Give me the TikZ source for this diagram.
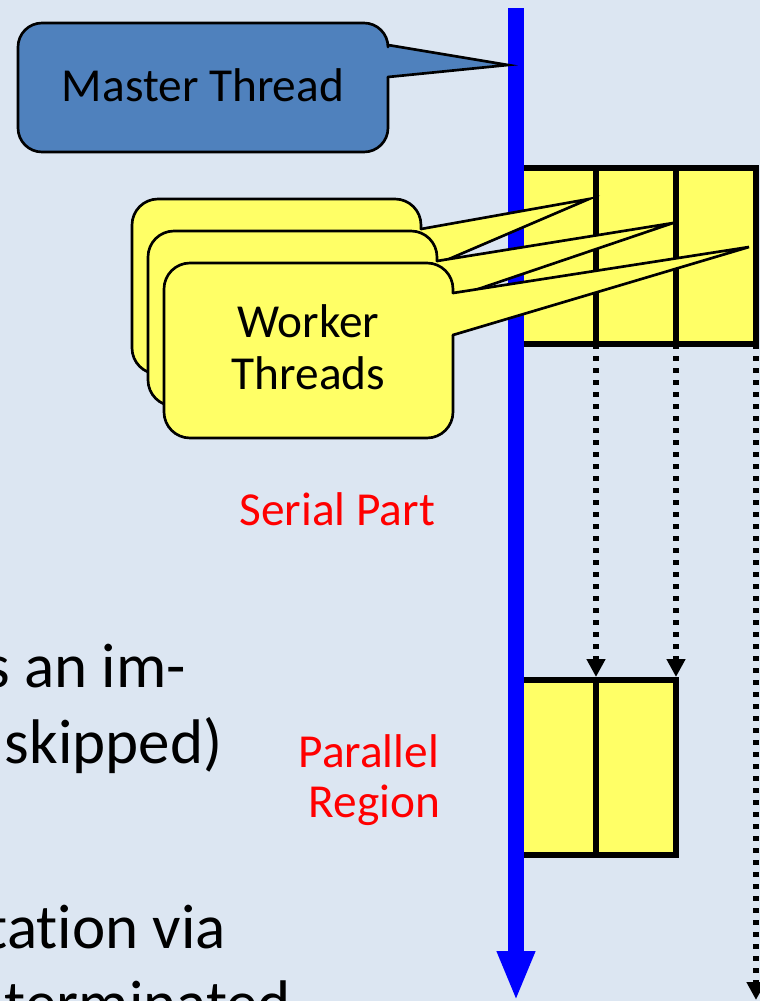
\documentclass[tikz,border=0pt]{standalone}
\usepackage{fontspec}
\setmainfont{Carlito}[Ligatures=NoCommon]
\usetikzlibrary{arrows.meta}
\definecolor{bgblue}{HTML}{DCE6F2}
\definecolor{masterfill}{HTML}{4F81BD}
\definecolor{workeryellow}{HTML}{FFFF66}
\definecolor{threadblue}{HTML}{0000FF}
\definecolor{labelred}{HTML}{FF0000}
% #1 fill, #2 x0, #3 y0, #4 x1, #5 y1, #6 ya, #7 yb, #8 tip, #9 radius
\newcommand\speechbox[9]{%
  \fill[#1, rounded corners=#9] (#2,#3) rectangle (#4,#5);
  \fill[#1] (#4,#6) -- (#8) -- (#4,#7) -- cycle;
  \draw[calloutline, rounded corners=#9] (#4,#7) -- (#4,#5) -- (#2,#5) -- (#2,#3) -- (#4,#3) -- (#4,#6);
  \draw[calloutline, line join=miter] (#4,#6) -- (#8) -- (#4,#7);
}
\begin{document}
\begin{tikzpicture}[x=0.75pt,y=-0.75pt,
  cellbox/.style={draw=black, line width=4.5pt, fill=workeryellow, inner sep=0pt, outer sep=0pt, minimum width=60pt, anchor=north west},
  dotarrow/.style={line width=4pt, dash pattern=on 4pt off 5pt, -{Triangle[length=13.5pt,width=13.5pt]}},
  threadarrow/.style={draw=threadblue, line width=12pt, -{Triangle[length=37.5pt,width=26.25pt]}},
  calloutline/.style={draw=black, line width=2pt, line cap=round, line join=round},
  lbl/.style={inner sep=0pt, outer sep=0pt, font=\fontsize{35.5}{39}\selectfont},
  redlbl/.style={lbl, text=labelred},
  bodytext/.style={inner sep=0pt, outer sep=0pt, font=\fontsize{47.25}{57}\selectfont}]
\useasboundingbox (0,0) rectangle (760,1001);
\fill[bgblue] (0,0) rectangle (760,1001);

% body text (cut off at the slide edge)
\node[bodytext, anchor=base east] (bodyA) at (186,687) {s an im-};
\node[bodytext, anchor=base west] (bodyB) at (5,763) {skipped)};
\node[bodytext, anchor=base east] (bodyC) at (226,948) {tation via};
\node[bodytext, anchor=base east] (bodyD) at (291,1024) {terminated};

% thread cells
\node[cellbox, minimum height=132pt] (t1) at (516,168) {};
\node[cellbox, minimum height=132pt] (t2) at (596,168) {};
\node[cellbox, minimum height=132pt] (t3) at (676,168) {};
\node[cellbox, minimum height=131.6pt] (b1) at (516,680) {};
\node[cellbox, minimum height=131.6pt] (b2) at (596,680) {};
\coordinate (rend) at (756,1000);

\draw[dotarrow, shorten >=2.25pt] (t1.south east) -- (b1.north east);
\draw[dotarrow, shorten >=2.25pt] (t2.south east) -- (b2.north east);
\draw[dotarrow] (t3.south east) -- (rend);

% master thread line
\coordinate (mtop) at (516,8);
\coordinate (mbot) at (516,1001);
\draw[threadarrow] (mtop) -- (mbot);

% callouts
\coordinate (mtip) at (508,65);
\coordinate (tipA) at (589,199);
\coordinate (tipB) at (673,223);
\coordinate (tipC) at (749,247);
\speechbox{masterfill}{18}{23}{388}{152}{45}{77}{mtip}{18pt}
\speechbox{workeryellow}{132}{199}{421}{374}{229}{271}{tipA}{19.5pt}
\speechbox{workeryellow}{148}{231}{437}{406}{261}{303}{tipB}{19.5pt}
\speechbox{workeryellow}{164}{263}{453}{438}{293}{335}{tipC}{19.5pt}

\node[lbl, anchor=base] (mastertxt) at (203,101) {Master Thread};
\node[lbl, align=center] (workertxt) at (308.5,347.5) {Worker\\Threads};
\node[redlbl, anchor=base east] (serialtxt) at (435,525) {Serial Part};
\node[redlbl, anchor=base east] (paratxt) at (439,767) {Parallel};
\node[redlbl, anchor=base east] (regiontxt) at (440,817) {Region};
\end{tikzpicture}
\end{document}
